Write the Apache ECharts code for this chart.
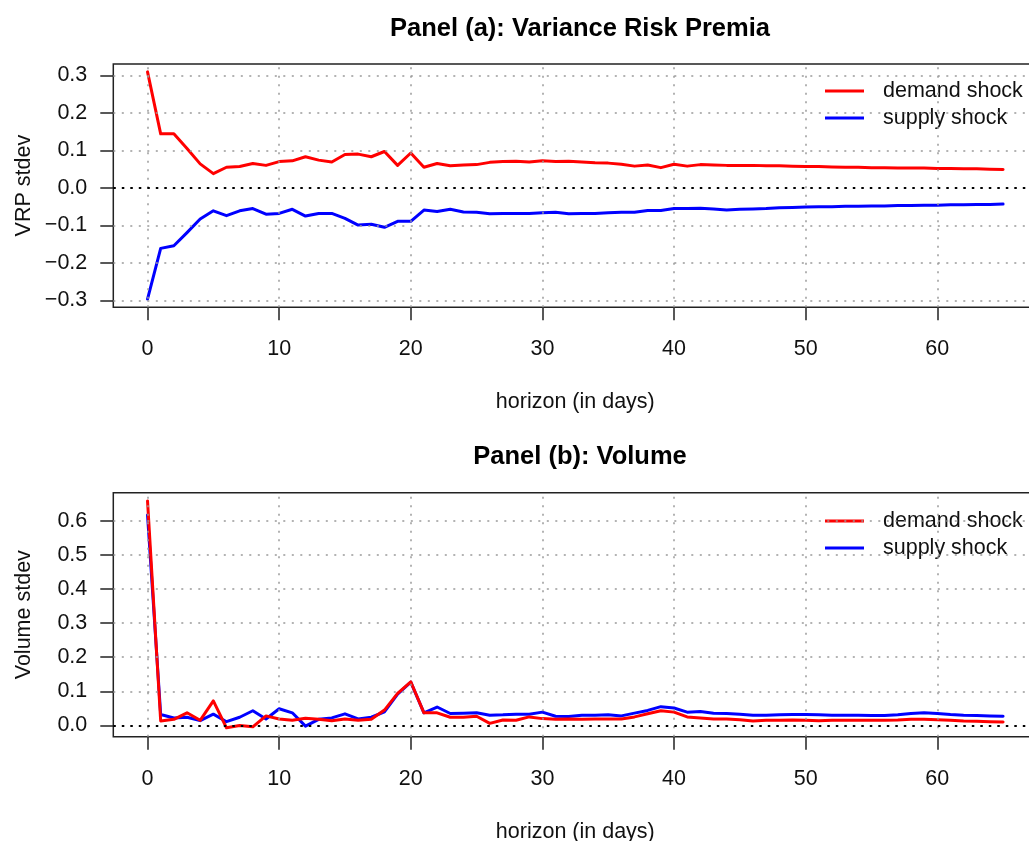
<!DOCTYPE html>
<html>
<head>
<meta charset="UTF-8">
<script src="https://cdn.jsdelivr.net/npm/echarts@6.0.0/dist/echarts.min.js"></script>
<style>
    html, body { margin: 0; padding: 0; background: #fff; }
    #main { width: 1029px; height: 841px; }
</style>
</head>
<body>
<div id="main"></div>
<script type="text/javascript">
    // horizon in days, 0..65
    var days = [0,1,2,3,4,5,6,7,8,9,10,11,12,13,14,15,16,17,18,19,20,21,22,23,24,25,26,27,28,29,30,31,32,
        33,34,35,36,37,38,39,40,41,42,43,44,45,46,47,48,49,50,51,52,53,54,55,56,57,58,59,60,61,62,63,64,65];

    // Panel (a): VRP response
    var vrpDemand = [0.309,0.144,0.144,0.105,0.064,0.038,0.055,0.057,0.065,0.060,0.070,0.072,0.083,0.074,0.069,
        0.089,0.090,0.083,0.097,0.060,0.093,0.055,0.065,0.059,0.061,0.062,0.068,0.070,0.071,0.069,0.072,0.070,
        0.071,0.069,0.067,0.066,0.063,0.058,0.061,0.054,0.063,0.058,0.062,0.061,0.060,0.060,0.060,0.059,0.059,
        0.058,0.057,0.057,0.056,0.055,0.055,0.054,0.054,0.053,0.053,0.053,0.052,0.052,0.051,0.051,0.050,0.049];
    var vrpSupply = [-0.296,-0.161,-0.154,-0.119,-0.083,-0.061,-0.074,-0.061,-0.055,-0.070,-0.068,-0.057,-0.075,
        -0.068,-0.068,-0.081,-0.099,-0.097,-0.105,-0.089,-0.089,-0.059,-0.063,-0.057,-0.064,-0.065,-0.069,-0.068,
        -0.068,-0.068,-0.066,-0.065,-0.069,-0.068,-0.068,-0.066,-0.065,-0.065,-0.060,-0.060,-0.055,-0.055,-0.054,
        -0.056,-0.059,-0.057,-0.056,-0.055,-0.053,-0.052,-0.051,-0.050,-0.050,-0.049,-0.049,-0.048,-0.048,-0.047,
        -0.047,-0.046,-0.046,-0.045,-0.045,-0.044,-0.044,-0.043];

    // Panel (b): volume response
    var volDemand = [0.658,0.013,0.018,0.037,0.015,0.072,-0.007,0.000,-0.004,0.028,0.019,0.015,0.021,0.018,0.014,
        0.019,0.015,0.018,0.045,0.094,0.128,0.037,0.037,0.024,0.024,0.027,0.006,0.016,0.015,0.025,0.020,0.018,
        0.019,0.018,0.019,0.019,0.019,0.025,0.034,0.043,0.039,0.025,0.022,0.019,0.019,0.017,0.013,0.015,0.015,
        0.016,0.015,0.014,0.015,0.015,0.015,0.015,0.015,0.016,0.018,0.018,0.017,0.015,0.013,0.012,0.011,0.010];
    var volSupply = [0.617,0.032,0.022,0.024,0.014,0.033,0.011,0.024,0.043,0.019,0.049,0.037,-0.002,0.018,0.022,
        0.034,0.019,0.024,0.040,0.092,0.127,0.037,0.054,0.035,0.036,0.037,0.030,0.031,0.033,0.033,0.039,0.027,
        0.026,0.030,0.030,0.031,0.028,0.036,0.044,0.055,0.051,0.039,0.041,0.036,0.035,0.033,0.030,0.030,0.031,
        0.032,0.032,0.031,0.030,0.030,0.030,0.029,0.029,0.031,0.035,0.037,0.035,0.032,0.030,0.029,0.028,0.027];

    // tick positions
    var xTicks = [0, 10, 20, 30, 40, 50, 60];
    var yTicksA = [-0.3, -0.2, -0.1, 0, 0.1, 0.2, 0.3];
    var yTicksB = [0, 0.1, 0.2, 0.3, 0.4, 0.5, 0.6];

    var FONT = "'Liberation Sans', Arial, Helvetica, sans-serif";

    var pairs = function (vals) {
        return days.map(function (d, i) { return [d, vals[i]]; });
    };

    var fmtTick = function (v) {
        return Number(v).toFixed(1).replace('-', '\u2212');
    };

    // dotted reference lines, R grid style
    var gridLines = function (yTicks) {
        var lines = [];
        xTicks.forEach(function (x) {
            lines.push({ xAxis: x, lineStyle: { color: '#9a9a9a', width: 1.5, type: [2, 6.5] } });
        });
        yTicks.forEach(function (y) {
            if (y === 0) {
                lines.push({ yAxis: 0, lineStyle: { color: '#000', width: 2.2, type: [2.5, 6] } });
            } else {
                lines.push({ yAxis: y, lineStyle: { color: '#9a9a9a', width: 1.5, type: [2, 6.5] } });
            }
        });
        return lines;
    };

    var makeXAxis = function (idx) {
        return {
            type: 'value', gridIndex: idx, min: -2.6, max: 67.6,
            axisLine: { show: false, onZero: false },
            splitLine: { show: false },
            axisTick: { show: true, inside: false, customValues: xTicks, length: 13, lineStyle: { color: '#222', width: 1.5 } },
            axisLabel: { customValues: xTicks, margin: 31, fontSize: 21.5, fontFamily: FONT, color: '#111' },
            name: 'horizon (in days)', nameLocation: 'middle', nameGap: 84, nameMoveOverlap: false,
            nameTextStyle: { fontSize: 21.5, fontFamily: FONT, color: '#111' }
        };
    };

    var makeYAxis = function (idx, min, max, ticks, name) {
        return {
            type: 'value', gridIndex: idx, min: min, max: max,
            axisLine: { show: false, onZero: false },
            splitLine: { show: false },
            axisTick: { show: true, inside: false, customValues: ticks, length: 13, lineStyle: { color: '#222', width: 1.5 } },
            axisLabel: { customValues: ticks, margin: 26, fontSize: 21.5, fontFamily: FONT, color: '#111', formatter: fmtTick },
            name: name, nameLocation: 'middle', nameGap: 78, nameMoveOverlap: false,
            nameTextStyle: { fontSize: 21.5, fontFamily: FONT, color: '#111' }
        };
    };

    var lineSeries = function (name, color, idx, vals) {
        return {
            name: name, type: 'line', xAxisIndex: idx, yAxisIndex: idx,
            data: pairs(vals), showSymbol: false, symbol: 'none', z: 3,
            lineStyle: { color: color, width: 3, join: 'round', cap: 'round' },
            itemStyle: { color: color }
        };
    };

    var refSeries = function (idx, yTicks) {
        return {
            type: 'line', xAxisIndex: idx, yAxisIndex: idx, data: [], z: 1, silent: true,
            markLine: { silent: true, symbol: 'none', label: { show: false }, animation: false, data: gridLines(yTicks) }
        };
    };

    var legendOpt = function (top) {
        return {
            data: ['demand shock', 'supply shock'], orient: 'vertical', left: 825, top: top,
            padding: 0, itemGap: 3, icon: 'rect', itemWidth: 39, itemHeight: 3,
            textStyle: { fontSize: 21.5, fontFamily: FONT, color: '#111', lineHeight: 24, padding: [0, 0, 0, 14] }
        };
    };

    var chart = echarts.init(document.getElementById('main'));
    var option = {
        animation: false,
        backgroundColor: '#fff',
        title: [
            { text: 'Panel (a): Variance Risk Premia', left: 575, top: 11, textAlign: 'center',
                textStyle: { fontSize: 25.5, fontWeight: 'bold', fontFamily: FONT, color: '#000' } },
            { text: 'Panel (b): Volume', left: 575, top: 439, textAlign: 'center',
                textStyle: { fontSize: 25.5, fontWeight: 'bold', fontFamily: FONT, color: '#000' } }
        ],
        legend: [legendOpt(79), legendOpt(509)],
        grid: [
            { left: 113.3, top: 64, width: 924, height: 243.3, outerBoundsMode: 'none', containLabel: false,
                show: true, borderColor: '#222', borderWidth: 1.5, backgroundColor: 'transparent' },
            { left: 113.3, top: 492.7, width: 924, height: 244, outerBoundsMode: 'none', containLabel: false,
                show: true, borderColor: '#222', borderWidth: 1.5, backgroundColor: 'transparent' }
        ],
        xAxis: [makeXAxis(0), makeXAxis(1)],
        yAxis: [
            makeYAxis(0, -0.318, 0.330, yTicksA, 'VRP stdev'),
            makeYAxis(1, -0.033, 0.682, yTicksB, 'Volume stdev')
        ],
        series: [
            refSeries(0, yTicksA),
            refSeries(1, yTicksB),
            lineSeries('demand shock', '#ff0000', 0, vrpDemand),
            lineSeries('supply shock', '#0000ff', 0, vrpSupply),
            lineSeries('supply shock', '#0000ff', 1, volSupply),
            lineSeries('demand shock', '#ff0000', 1, volDemand)
        ]
    };
    chart.setOption(option);
</script>
</body>
</html>
